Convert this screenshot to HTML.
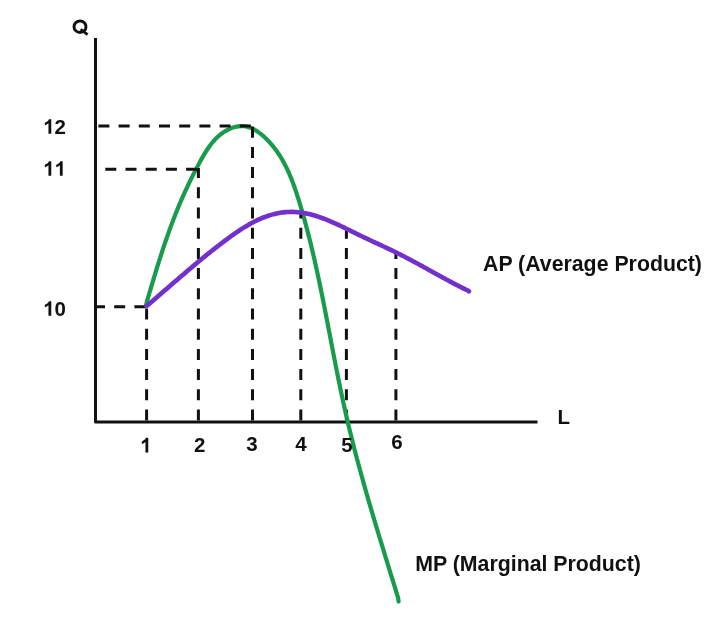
<!DOCTYPE html>
<html><head><meta charset="utf-8"><style>
html,body{margin:0;padding:0;background:#fff;}
body{width:720px;height:629px;overflow:hidden;position:relative;font-family:"Liberation Sans",sans-serif;}
svg{position:absolute;left:0;top:0;filter:blur(0.45px);}
.d{stroke:#111;stroke-width:3;stroke-dasharray:11 9.2;fill:none;}
text{font-family:"Liberation Sans",sans-serif;font-weight:bold;fill:#111;}
</style></head><body>
<svg width="720" height="629" viewBox="0 0 720 629">
<path d="M95.5 38 L95.5 422 L537.5 422" stroke="#111" stroke-width="3" fill="none" stroke-linejoin="round"/>
<line x1="346.4" y1="420.5" x2="346.4" y2="230.5" class="d"/>
<path d="M146.10 305.50 L146.80 301.88 L147.81 298.43 L148.82 294.98 L149.84 291.51 L150.86 288.04 L151.90 284.56 L152.94 281.08 L153.99 277.59 L155.04 274.10 L156.11 270.61 L157.19 267.11 L158.28 263.62 L159.38 260.13 L160.49 256.64 L161.62 253.16 L162.76 249.68 L163.91 246.20 L165.08 242.73 L166.27 239.27 L167.47 235.82 L168.69 232.38 L169.92 228.94 L171.18 225.52 L172.45 222.11 L173.74 218.72 L175.05 215.34 L176.38 211.98 L177.74 208.63 L179.11 205.30 L180.51 201.99 L181.94 198.69 L183.38 195.40 L184.86 192.12 L186.36 188.85 L187.88 185.59 L189.44 182.34 L191.03 179.09 L192.64 175.85 L194.29 172.60 L195.97 169.36 L197.68 166.12 L199.42 162.87 L201.20 159.63 L203.03 156.39 L204.93 153.19 L206.90 150.05 L208.97 146.99 L211.16 144.03 L213.48 141.21 L215.95 138.53 L218.59 136.02 L221.41 133.72 L224.43 131.63 L227.63 129.81 L230.96 128.29 L234.38 127.13 L237.85 126.37 L241.32 126.06 L244.75 126.24 L248.12 126.95 L251.40 128.13 L254.58 129.71 L257.66 131.62 L260.63 133.82 L263.48 136.22 L266.20 138.76 L268.78 141.40 L271.24 144.13 L273.56 146.93 L275.77 149.80 L277.86 152.75 L279.84 155.76 L281.73 158.83 L283.51 161.97 L285.20 165.15 L286.81 168.38 L288.34 171.66 L289.80 174.99 L291.19 178.34 L292.51 181.74 L293.78 185.16 L295.00 188.60 L296.18 192.07 L297.31 195.55 L298.42 199.05 L299.49 202.55 L300.55 206.06 L301.58 209.57 L302.60 213.09 L303.60 216.61 L304.58 220.13 L305.54 223.65 L306.48 227.18 L307.41 230.71 L308.32 234.25 L309.22 237.78 L310.10 241.32 L310.97 244.86 L311.83 248.41 L312.67 251.95 L313.50 255.50 L314.31 259.05 L315.12 262.60 L315.91 266.16 L316.70 269.71 L317.47 273.27 L318.23 276.83 L318.99 280.39 L319.74 283.95 L320.48 287.51 L321.21 291.08 L321.93 294.64 L322.65 298.21 L323.36 301.78 L324.07 305.34 L324.77 308.91 L325.47 312.48 L326.17 316.05 L326.86 319.62 L327.55 323.19 L328.23 326.76 L328.92 330.33 L329.61 333.91 L330.29 337.48 L330.97 341.05 L331.66 344.62 L332.35 348.19 L333.03 351.76 L333.72 355.33 L334.42 358.90 L335.11 362.46 L335.81 366.03 L336.52 369.60 L337.23 373.16 L337.94 376.73 L338.66 380.29 L339.39 383.85 L340.13 387.41 L340.87 390.97 L341.62 394.53 L342.38 398.08 L343.14 401.64 L343.92 405.19 L344.71 408.74 L345.51 412.29 L346.32 415.83 L347.14 419.38 L347.97 422.92 L348.81 426.46 L349.67 429.99 L350.53 433.53 L351.40 437.06 L352.29 440.59 L353.18 444.12 L354.08 447.65 L354.99 451.18 L355.91 454.70 L356.84 458.22 L357.78 461.74 L358.72 465.26 L359.67 468.77 L360.63 472.29 L361.60 475.80 L362.57 479.31 L363.55 482.82 L364.54 486.33 L365.53 489.83 L366.53 493.34 L367.54 496.84 L368.55 500.34 L369.57 503.84 L370.59 507.34 L371.61 510.83 L372.64 514.33 L373.68 517.82 L374.72 521.31 L375.76 524.80 L376.81 528.29 L377.86 531.78 L378.91 535.26 L379.97 538.75 L381.02 542.23 L382.08 545.72 L383.15 549.20 L384.21 552.68 L385.28 556.16 L386.35 559.63 L387.41 563.11 L388.48 566.58 L389.55 570.06 L390.62 573.53 L391.69 577.00 L392.76 580.47 L393.83 583.94 L394.90 587.41 L395.97 590.88 L397.04 594.35 L398.11 597.81 L398.60 601.50" stroke="#189c4b" stroke-width="4.2" fill="none" stroke-linecap="round" stroke-linejoin="round"/>
<line x1="98.4" y1="126.0" x2="252.0" y2="126.0" class="d" stroke-dasharray="10.8 9.43"/>
<line x1="105.3" y1="169.2" x2="199.0" y2="169.2" class="d" stroke-dasharray="11.5 8.9"/>
<line x1="94.0" y1="306.8" x2="147.5" y2="306.8" class="d" stroke-dasharray="11 9.2"/>
<line x1="146.6" y1="420.5" x2="146.6" y2="306.8" class="d"/>
<line x1="198.4" y1="420.5" x2="198.4" y2="168.0" class="d"/>
<line x1="252.5" y1="420.5" x2="252.5" y2="124.6" class="d"/>
<line x1="300.8" y1="420.5" x2="300.8" y2="212.0" class="d"/>
<line x1="395.9" y1="420.5" x2="395.9" y2="253.5" class="d"/>
<path d="M146.50 306.00 L147.92 304.95 L149.38 303.70 L150.83 302.46 L152.28 301.21 L153.72 299.97 L155.16 298.73 L156.60 297.49 L158.03 296.25 L159.46 295.02 L160.88 293.79 L162.30 292.56 L163.72 291.33 L165.14 290.11 L166.55 288.89 L167.96 287.67 L169.36 286.45 L170.77 285.23 L172.17 284.02 L173.58 282.81 L174.98 281.60 L176.38 280.39 L177.78 279.19 L179.18 277.98 L180.58 276.78 L181.98 275.58 L183.38 274.38 L184.78 273.19 L186.18 272.00 L187.58 270.80 L188.99 269.61 L190.39 268.43 L191.80 267.24 L193.21 266.06 L194.62 264.87 L196.04 263.69 L197.46 262.51 L198.88 261.34 L200.30 260.16 L201.73 258.99 L203.16 257.82 L204.60 256.64 L206.04 255.48 L207.48 254.31 L208.93 253.14 L210.39 251.98 L211.85 250.82 L213.32 249.66 L214.79 248.50 L216.27 247.34 L217.76 246.18 L219.25 245.03 L220.75 243.88 L222.25 242.72 L223.77 241.57 L225.29 240.43 L226.82 239.29 L228.35 238.15 L229.90 237.02 L231.45 235.90 L233.01 234.79 L234.57 233.69 L236.15 232.60 L237.73 231.53 L239.32 230.47 L240.92 229.43 L242.53 228.40 L244.14 227.39 L245.77 226.41 L247.40 225.44 L249.04 224.50 L250.69 223.58 L252.34 222.68 L254.01 221.82 L255.68 220.98 L257.36 220.17 L259.05 219.38 L260.75 218.63 L262.46 217.92 L264.18 217.24 L265.90 216.59 L267.64 215.98 L269.38 215.41 L271.14 214.87 L272.90 214.38 L274.67 213.93 L276.45 213.52 L278.24 213.16 L280.04 212.84 L281.85 212.57 L283.66 212.34 L285.48 212.16 L287.30 212.03 L289.13 211.94 L290.96 211.91 L292.79 211.92 L294.62 211.98 L296.45 212.09 L298.28 212.25 L300.11 212.45 L301.93 212.70 L303.75 212.99 L305.57 213.32 L307.38 213.69 L309.19 214.09 L310.99 214.53 L312.78 215.01 L314.57 215.51 L316.34 216.05 L318.12 216.62 L319.88 217.21 L321.65 217.83 L323.40 218.48 L325.15 219.14 L326.90 219.83 L328.64 220.55 L330.37 221.28 L332.11 222.02 L333.83 222.79 L335.56 223.56 L337.28 224.36 L338.99 225.16 L340.71 225.97 L342.42 226.79 L344.13 227.62 L345.83 228.46 L347.53 229.29 L349.23 230.13 L350.93 230.98 L352.63 231.82 L354.33 232.66 L356.02 233.50 L357.72 234.33 L359.41 235.16 L361.10 235.97 L362.79 236.79 L364.49 237.59 L366.18 238.39 L367.87 239.19 L369.56 239.98 L371.25 240.77 L372.93 241.55 L374.62 242.33 L376.31 243.11 L377.99 243.89 L379.67 244.67 L381.35 245.45 L383.03 246.24 L384.71 247.02 L386.39 247.81 L388.06 248.60 L389.74 249.39 L391.41 250.19 L393.08 250.99 L394.74 251.80 L396.41 252.62 L398.07 253.44 L399.73 254.27 L401.39 255.11 L403.05 255.96 L404.70 256.81 L406.35 257.67 L408.00 258.54 L409.65 259.41 L411.30 260.29 L412.95 261.17 L414.59 262.06 L416.24 262.95 L417.88 263.84 L419.52 264.74 L421.16 265.64 L422.80 266.54 L424.44 267.45 L426.08 268.35 L427.72 269.26 L429.36 270.17 L431.00 271.07 L432.64 271.98 L434.28 272.89 L435.92 273.80 L437.56 274.70 L439.20 275.61 L440.84 276.51 L442.48 277.41 L444.13 278.30 L445.77 279.19 L447.42 280.08 L449.07 280.97 L450.71 281.85 L452.36 282.72 L454.02 283.59 L455.67 284.45 L457.33 285.31 L458.98 286.16 L460.64 287.00 L462.30 287.84 L463.97 288.67 L465.64 289.48 L467.31 290.29 L468.90 291.30" stroke="#7230cc" stroke-width="4.6" fill="none" stroke-linecap="round" stroke-linejoin="round"/>
<ellipse cx="80" cy="26.7" rx="6.0" ry="5.75" fill="none" stroke="#111" stroke-width="2.9"/><path d="M80.6 29.2 L87.6 34.6" stroke="#111" stroke-width="2.7" fill="none"/>
<path d="M806 0H525V1059Q371 915 162 846V1101Q272 1137 401 1237Q530 1338 578 1466H806Z" fill="#111" transform="translate(43.20 133.80) scale(0.01001 -0.01001)"/><text x="54.60" y="133.80" font-size="20.5">2</text>
<path d="M806 0H525V1059Q371 915 162 846V1101Q272 1137 401 1237Q530 1338 578 1466H806Z" fill="#111" transform="translate(43.20 175.80) scale(0.01001 -0.01001)"/><path d="M806 0H525V1059Q371 915 162 846V1101Q272 1137 401 1237Q530 1338 578 1466H806Z" fill="#111" transform="translate(54.60 175.80) scale(0.01001 -0.01001)"/>
<path d="M806 0H525V1059Q371 915 162 846V1101Q272 1137 401 1237Q530 1338 578 1466H806Z" fill="#111" transform="translate(43.20 315.80) scale(0.01001 -0.01001)"/><text x="54.60" y="315.80" font-size="20.5">0</text>
<text x="557.5" y="423.5" font-size="20.5">L</text>
<path d="M806 0H525V1059Q371 915 162 846V1101Q272 1137 401 1237Q530 1338 578 1466H806Z" fill="#111" transform="translate(140.20 452.50) scale(0.01001 -0.01001)"/>
<text x="194.00" y="452.30" font-size="20.5">2</text>
<text x="246.30" y="450.80" font-size="20.5">3</text>
<text x="295.30" y="451.30" font-size="20.5">4</text>
<text x="341.20" y="452.00" font-size="20.5">5</text>
<text x="391.30" y="449.30" font-size="20.5">6</text>
<text x="483" y="271" font-size="21.3">AP (Average Product)</text>
<text x="415.3" y="570.8" font-size="21.3">MP (Marginal Product)</text>
</svg>
</body></html>
